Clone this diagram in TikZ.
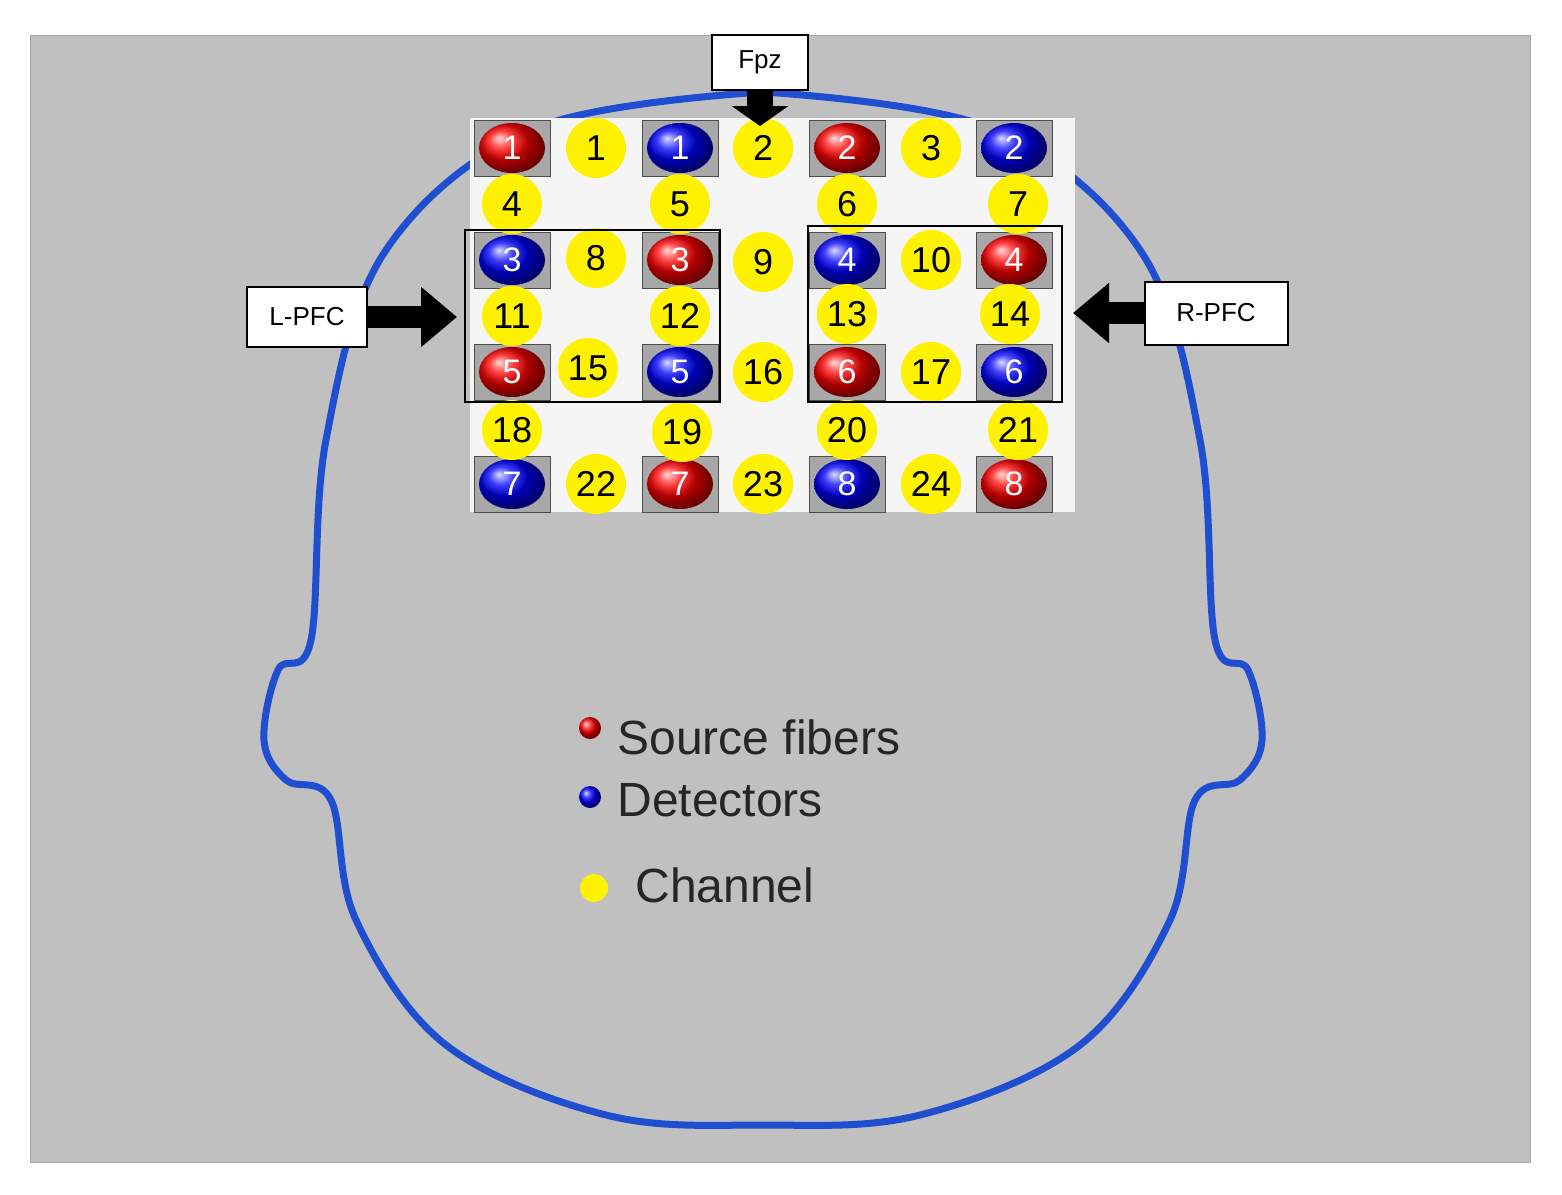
\documentclass[tikz,border=0pt]{standalone}
\usepackage{fontspec}
\setmainfont{Liberation Sans}
\usetikzlibrary{arrows.meta,shapes.geometric}
\definecolor{bg}{HTML}{C0C0C0}
\definecolor{headblue}{HTML}{1F4FD0}
\definecolor{chy}{HTML}{FFF200}
\definecolor{cellg}{HTML}{A8A8A8}
\begin{document}
\begin{tikzpicture}[x=1pt,y=-1pt,
  src/.style={ellipse,minimum width=66,minimum height=50,inner sep=0,ball color=red,text=white,font=\fontsize{34}{34}\selectfont},
  det/.style={ellipse,minimum width=66,minimum height=50,inner sep=0,ball color=blue,text=white,font=\fontsize{34}{34}\selectfont},
  cell/.style={draw=gray!60!black,line width=0.8,fill=cellg,minimum width=76,minimum height=56,inner sep=0},
  ch/.style={circle,fill=chy,minimum size=60,inner sep=0,font=\fontsize{36}{36}\selectfont},
  lbl/.style={draw=black,line width=2,fill=white,inner sep=0,font=\fontsize{26}{26}\selectfont},
  blk/.style={line width=22,-{Triangle[length=36,width=58]}},
  roi/.style={draw=black,line width=2.5}]
\useasboundingbox (0,0) rectangle (1562,1194);
\fill[white] (0,0) rectangle (1562,1194);
\fill[bg,draw=gray!70] (30,35) rectangle (1530,1162);
% head
\draw[headblue,line width=7,line join=round] plot[smooth,tension=0.6] coordinates {
 (763,92) (990,128) (1140,250) (1200,440) (1215,640) (1248,670) (1262,740) (1240,780) (1195,800)
 (1170,920) (1080,1045) (920,1115) (763,1125) (606,1115) (446,1045) (356,920) (331,800)
 (286,780) (264,740) (278,670) (311,640) (326,440) (386,250) (536,128) (763,92)};
% panel
\fill[white!92!gray] (470,118) rectangle (1075,512);
\foreach \c in {512,680,847,1014}{\foreach \r in {148,260,372,484}{\node[cell] at (\c,\r) {};}}
% fibers
\node[src] (s1) at (512,148) {1}; \node[det] (d1) at (680,148) {1}; \node[src] (s2) at (847,148) {2}; \node[det] (d2) at (1014,148) {2};
\node[det] (d3) at (512,260) {3}; \node[src] (s3) at (680,260) {3}; \node[det] (d4) at (847,260) {4}; \node[src] (s4) at (1014,260) {4};
\node[src] (s5) at (512,372) {5}; \node[det] (d5) at (680,372) {5}; \node[src] (s6) at (847,372) {6}; \node[det] (d6) at (1014,372) {6};
\node[det] (d7) at (512,484) {7}; \node[src] (s7) at (680,484) {7}; \node[det] (d8) at (847,484) {8}; \node[src] (s8) at (1014,484) {8};
% channels
\node[ch] (c1) at (596,148) {1}; \node[ch] (c2) at (763,148) {2}; \node[ch] (c3) at (931,148) {3};
\node[ch] (c4) at (512,204) {4}; \node[ch] (c5) at (680,204) {5}; \node[ch] (c6) at (847,204) {6}; \node[ch] (c7) at (1018,204) {7};
\node[ch] (c8) at (596,258) {8}; \node[ch] (c9) at (763,262) {9}; \node[ch] (c10) at (931,260) {10};
\node[ch] (c11) at (512,316) {11}; \node[ch] (c12) at (680,316) {12}; \node[ch] (c13) at (847,314) {13}; \node[ch] (c14) at (1010,314) {14};
\node[ch] (c15) at (588,368) {15}; \node[ch] (c16) at (763,372) {16}; \node[ch] (c17) at (931,372) {17};
\node[ch] (c18) at (512,430) {18}; \node[ch] (c19) at (682,432) {19}; \node[ch] (c20) at (847,430) {20}; \node[ch] (c21) at (1018,430) {21};
\node[ch] (c22) at (596,484) {22}; \node[ch] (c23) at (763,484) {23}; \node[ch] (c24) at (931,484) {24};
% ROI boxes
\draw[roi] (465,230) rectangle (720,402);
\draw[roi] (808,226) rectangle (1062,402);
% labels and arrows
\node[lbl,minimum width=96,minimum height=55] (fpz) at (760,62) {Fpz};
\coordinate (fpzt) at (760,126);
\draw[line width=26,-{Triangle[length=20,width=56]}] (fpz.south) -- (fpzt);
\node[lbl,minimum width=120,minimum height=60] (lpfc) at (307,317) {L-PFC};
\coordinate (lpfct) at (457,317);
\draw[blk] (lpfc.east) -- (lpfct);
\node[lbl,minimum width=143,minimum height=63] (rpfc) at (1216,313) {R-PFC};
\coordinate (rpfct) at (1073,313);
\draw[blk] (rpfc.west) -- (rpfct);
% legend
\shade[ball color=red] (590,728) circle (11);
\shade[ball color=blue] (590,797) circle (11);
\node[circle,fill=chy,minimum size=28,inner sep=0] (ly) at (594,888) {};
\node[anchor=west,font=\fontsize{48}{48}\selectfont,text=black!85] (t1) at (614,737) {Source fibers};
\node[anchor=west,font=\fontsize{48}{48}\selectfont,text=black!85] (t2) at (614,800) {Detectors};
\node[anchor=west,font=\fontsize{48}{48}\selectfont,text=black!85] (t3) at (632,885) {Channel};
\end{tikzpicture}
\end{document}
